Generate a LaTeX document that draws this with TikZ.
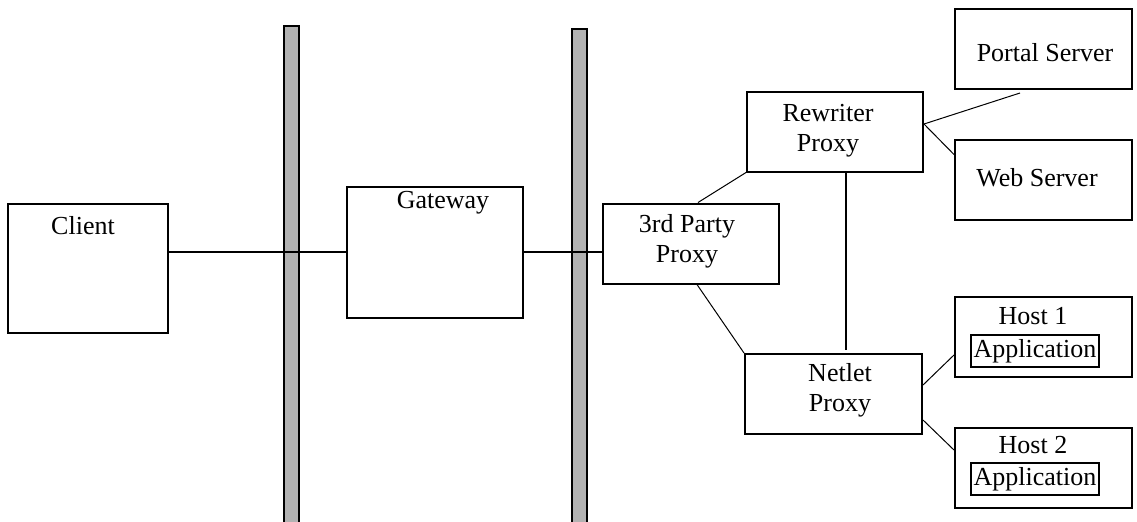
\documentclass[tikz,border=0pt]{standalone}
\usepackage{fontspec}
\setmainfont{Liberation Serif}

\begin{document}
\begin{tikzpicture}[
  x=0.5pt, y=-0.5pt,
  every node/.style={font=\fontsize{13}{15}\selectfont},
  box/.style={draw, line width=1pt, minimum width=88pt, minimum height=40pt, inner sep=0pt},
  txt/.style={anchor=center, align=center, inner sep=0pt},
  app/.style={draw, line width=1pt, minimum width=64pt, minimum height=16pt, inner sep=0.5pt},
  wall/.style={draw, line width=1pt, fill=black!30, minimum width=7.5pt, minimum height=262pt, inner sep=0pt, anchor=north},
  link/.style={line width=1pt},
  diag/.style={line width=0.5pt}
]
\clip (0,0) rectangle (1137,521);

% firewalls
\node[wall] (fw1) at (291,25) {};
\node[wall] (fw2) at (579,28) {};

% left side
\node[box, minimum width=80pt, minimum height=64.5pt,
  label={[txt, shift={(-5,23)}]north:Client}] (client) at (88,268.5) {};
\node[box, minimum height=65.5pt,
  label={[txt, shift={(8,17)}]north:Gateway}] (gateway) at (435,252) {};

% proxies
\node[box, label={[txt, shift={(-4,-2.5)}]center:3rd Party\\Proxy}] (party) at (691,243.5) {};
\node[box, label={[txt, shift={(-7,-0.5)}]center:Rewriter\\Proxy}] (rewriter) at (835,131.5) {};
\node[box, minimum width=88.5pt, label={[txt, shift={(6.5,-4)}]center:Netlet\\Proxy}] (netlet) at (833.5,394) {};

% servers
\node[box, minimum width=88.5pt, label={[txt, shift={(1.5,4)}]center:Portal Server}] (portal) at (1043.5,49) {};
\node[box, minimum width=88.5pt, label={[txt, shift={(-6.5,-1.5)}]center:Web Server}] (web) at (1043.5,179.5) {};

% hosts
\node[box, minimum width=88.5pt, label={[txt, shift={(-10.5,20)}]north:Host 1}] (host1) at (1043.5,337) {};
\node[app] (app1) at ([shift={(-8.5,14)}]host1.center) {Application};
\node[box, minimum width=88.5pt, label={[txt, shift={(-10.5,18)}]north:Host 2}] (host2) at (1043.5,468) {};
\node[app] (app2) at ([shift={(-8.5,11)}]host2.center) {Application};

% connections
\draw[link] (client.east |- gateway.west) -- (gateway.west);
\draw[link] (gateway.east) -- (gateway.east -| party.west);
\draw[diag] ([shift={(7,0)}]party.north) -- (rewriter.south west);
\draw[diag] ([shift={(6,0)}]party.south) -- (netlet.north west);
\draw[link] ([shift={(11,0)}]rewriter.south) -- ++(0,177);
\draw[diag] ([shift={(0,-7.5)}]rewriter.east) -- ([shift={(-23.5,3)}]portal.south);
\draw[diag] ([shift={(0,-7.5)}]rewriter.east) -- ([shift={(0,16)}]web.north west);
\draw[diag] ([shift={(0,-9)}]netlet.east) -- ([shift={(0,18)}]host1.west);
\draw[diag] ([shift={(0,26)}]netlet.east) -- ([shift={(0,-18)}]host2.west);
\end{tikzpicture}
\end{document}
